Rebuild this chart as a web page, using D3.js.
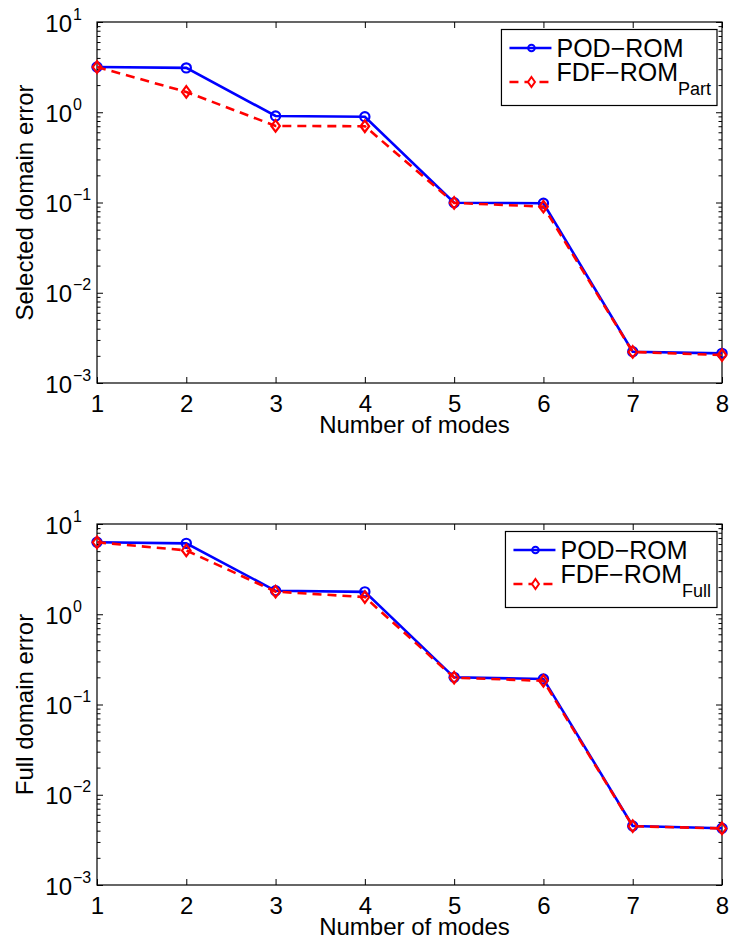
<!DOCTYPE html>
<html>
<head>
<meta charset="utf-8">
<script src="https://cdn.jsdelivr.net/npm/d3@7"></script>
<style>
  body { margin: 0; background: #fff; }
  text { font-family: "Liberation Sans", Arial, sans-serif; fill: #000; }
</style>
</head>
<body>
<div class="chart"></div>
<script>
// data
const modes = [1, 2, 3, 4, 5, 6, 7, 8];

const podSelected = [3.17, 3.1, 0.91, 0.89, 0.0995, 0.098, 0.00222, 0.00213];
const fdfPart     = [3.17, 1.68, 0.705, 0.70, 0.099, 0.090, 0.00221, 0.00204];

const podFull = [6.27, 6.1, 1.82, 1.77, 0.200, 0.192, 0.00451, 0.00425];
const fdfFull = [6.27, 5.1, 1.78, 1.55, 0.198, 0.183, 0.00448, 0.00423];

const yExponents = [1, 0, -1, -2, -3];

const W = 730, H = 946;
const svg = d3.select(".chart").append("svg")
    .attr("width", W)
    .attr("height", H);

function panel(top, pod, fdf, yLabel, sub) {
  const left = 97, right = 722, bottom = top + 361;

  const x = d3.scaleLinear().domain([1, 8]).range([left, right]);
  const y = d3.scaleLog().domain([1e-3, 10]).range([bottom, top]);

  const g = svg.append("g");

  const majors = yExponents.map(e => Math.pow(10, e));
  const minors = [];
  for (let e = -3; e < 1; e++) {
    for (let k = 2; k <= 9; k++) minors.push(k * Math.pow(10, e));
  }

  // x axes (bottom with labels, top without)
  g.append("g")
      .attr("transform", `translate(0,${bottom})`)
      .call(d3.axisBottom(x).tickValues(modes).tickFormat(d3.format("d"))
              .tickSizeInner(-6).tickSizeOuter(0).tickPadding(12))
      .call(a => a.selectAll("text").attr("font-size", 24).attr("font-family", "Liberation Sans, Arial, sans-serif"));
  g.append("g")
      .attr("transform", `translate(0,${top})`)
      .call(d3.axisTop(x).tickValues(modes).tickSizeInner(-6).tickSizeOuter(0).tickFormat(""));

  // y axes, major and minor, both sides
  g.append("g")
      .attr("transform", `translate(${left},0)`)
      .call(d3.axisLeft(y).tickValues(majors).tickSizeInner(-6).tickSizeOuter(0).tickFormat(""));
  g.append("g")
      .attr("transform", `translate(${left},0)`)
      .call(d3.axisLeft(y).tickValues(minors).tickSizeInner(-3.5).tickSizeOuter(0).tickFormat(""));
  g.append("g")
      .attr("transform", `translate(${right},0)`)
      .call(d3.axisRight(y).tickValues(majors).tickSizeInner(-6).tickSizeOuter(0).tickFormat(""));
  g.append("g")
      .attr("transform", `translate(${right},0)`)
      .call(d3.axisRight(y).tickValues(minors).tickSizeInner(-3.5).tickSizeOuter(0).tickFormat(""));

  g.selectAll(".domain").remove();
  g.selectAll(".tick line").attr("stroke", "#000").attr("stroke-width", 1);

  // frame
  g.append("rect")
      .attr("x", left).attr("y", top)
      .attr("width", right - left).attr("height", bottom - top)
      .attr("fill", "none").attr("stroke", "#000").attr("stroke-width", 1.2);

  // y tick labels 10^n
  const yl = g.append("g");
  yExponents.forEach(e => {
    const yy = y(Math.pow(10, e));
    yl.append("text")
        .attr("x", left - 25).attr("y", yy + 9.5)
        .attr("text-anchor", "end")
        .attr("font-size", 24)
        .text("10");
    yl.append("text")
        .attr("x", left - 24).attr("y", yy - 2.5)
        .attr("font-size", 16)
        .text(e < 0 ? "\u2212" + (-e) : String(e));
  });

  // axis titles
  g.append("text")
      .attr("x", (left + right) / 2 + 5).attr("y", bottom + 50)
      .attr("text-anchor", "middle")
      .attr("font-size", 24)
      .text("Number of modes");
  g.append("text")
      .attr("transform", `translate(33,${(top + bottom) / 2}) rotate(-90)`)
      .attr("text-anchor", "middle")
      .attr("font-size", 24)
      .text(yLabel);

  // lines
  const line = d3.line().x((d, i) => x(modes[i])).y(d => y(d));

  g.append("path")
      .attr("d", line(pod))
      .attr("fill", "none").attr("stroke", "#0000ff").attr("stroke-width", 2.6);
  g.selectAll(".pod-pt")
    .data(pod)
    .enter().append("circle")
      .attr("class", "pod-pt")
      .attr("cx", (d, i) => x(modes[i])).attr("cy", d => y(d))
      .attr("r", 4.6)
      .attr("fill", "none").attr("stroke", "#0000ff").attr("stroke-width", 2.2);

  g.append("path")
      .attr("d", line(fdf))
      .attr("fill", "none").attr("stroke", "#ff0000").attr("stroke-width", 2.6)
      .attr("stroke-dasharray", "9,6");
  const diamond = "M0,-5.8L4.3,0L0,5.8L-4.3,0Z";
  g.selectAll(".fdf-pt")
    .data(fdf)
    .enter().append("path")
      .attr("class", "fdf-pt")
      .attr("transform", (d, i) => `translate(${x(modes[i])},${y(d)})`)
      .attr("d", diamond)
      .attr("fill", "none").attr("stroke", "#ff0000").attr("stroke-width", 2.2);

  // legend
  const lg = g.append("g");
  const box = lg.append("rect")
      .attr("fill", "#fff").attr("stroke", "#000").attr("stroke-width", 1.2);
  const lx = 0, tx = 55;
  lg.append("line")
      .attr("x1", lx + 8).attr("x2", lx + 50).attr("y1", 18.5).attr("y2", 18.5)
      .attr("stroke", "#0000ff").attr("stroke-width", 2.6);
  lg.append("circle")
      .attr("cx", lx + 30).attr("cy", 18.5).attr("r", 3.3)
      .attr("fill", "none").attr("stroke", "#0000ff").attr("stroke-width", 2);
  lg.append("text")
      .attr("x", tx).attr("y", 27).attr("font-size", 25)
      .text("POD\u2212ROM");
  lg.append("line")
      .attr("x1", lx + 8).attr("x2", lx + 50).attr("y1", 52.5).attr("y2", 52.5)
      .attr("stroke", "#ff0000").attr("stroke-width", 2.6)
      .attr("stroke-dasharray", "9,6");
  lg.append("path")
      .attr("transform", `translate(${lx + 30},52.5)`)
      .attr("d", "M0,-5L3.5,0L0,5L-3.5,0Z")
      .attr("fill", "#fff").attr("stroke", "#ff0000").attr("stroke-width", 2);
  const t2 = lg.append("text")
      .attr("x", tx).attr("y", 51).attr("font-size", 25);
  t2.append("tspan").text("FDF\u2212ROM");
  t2.append("tspan").attr("font-size", 18).attr("dy", 14).text(sub);

  const bb = lg.node().getBBox();
  const bw = bb.x + bb.width + 6, bh = 76;
  box.attr("x", 0).attr("y", 0).attr("width", bw).attr("height", bh);
  lg.attr("transform", `translate(${right - 5 - bw},${top + 7.5})`);
}

panel(22, podSelected, fdfPart, "Selected domain error", "Part");
panel(524, podFull, fdfFull, "Full domain error", "Full");
</script>
</body>
</html>
